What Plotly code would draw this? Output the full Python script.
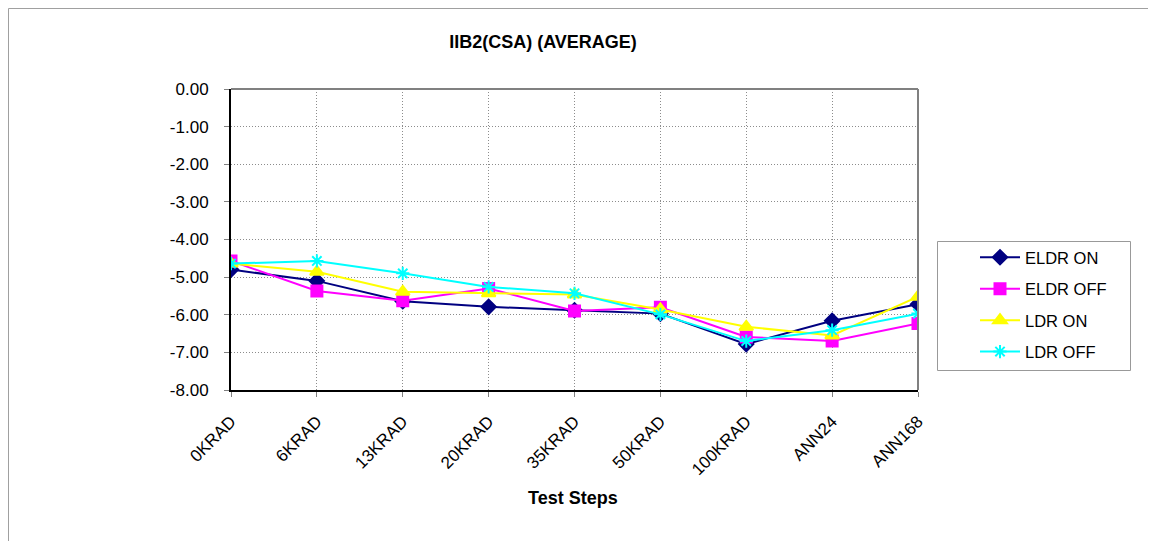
import plotly.graph_objects as go

categories = ["0KRAD", "6KRAD", "13KRAD", "20KRAD", "35KRAD", "50KRAD", "100KRAD", "ANN24", "ANN168"]
eldr_on = [-4.80, -5.10, -5.64, -5.79, -5.88, -5.97, -6.78, -6.16, -5.72]
eldr_off = [-4.57, -5.37, -5.63, -5.30, -5.90, -5.80, -6.59, -6.70, -6.23]
ldr_on = [-4.64, -4.86, -5.39, -5.43, -5.46, -5.86, -6.32, -6.55, -5.52]
ldr_off = [-4.64, -4.57, -4.90, -5.26, -5.43, -5.99, -6.70, -6.41, -5.97]
y_tickvals = [0, -1, -2, -3, -4, -5, -6, -7, -8]
y_ticktext = ["0.00", "-1.00", "-2.00", "-3.00", "-4.00", "-5.00", "-6.00", "-7.00", "-8.00"]

series = [
    ("ELDR ON", eldr_on, "#000080", "diamond", 11),
    ("ELDR OFF", eldr_off, "#FF00FF", "square", 11),
    ("LDR ON", ldr_on, "#FFFF00", "triangle-up", 12),
    ("LDR OFF", ldr_off, "#00FFFF", "asterisk-open", 11),
]

fig = go.Figure()
for name, vals, color, sym, size in series:
    fig.add_trace(go.Scatter(
        x=categories, y=vals, name=name, mode="lines+markers",
        legendgroup=name,
        line=dict(color=color, width=2),
        marker=dict(symbol=sym, size=size, color=color, line=dict(color=color, width=2)),
    ))

# page body has an 8px margin; compensate so page coordinates match the reference
OFF = 8
W, H = 1156 - OFF, 541 - OFF
L, T = 231 - OFF, 89 - OFF
pw, ph = 687, 301
R, B = W - L - pw, H - T - ph
plot_bottom = T + ph  # figure coords


def px_x(x_page):
    return (x_page - OFF - L) / pw


def px_y(y_page):
    return (plot_bottom - (y_page - OFF)) / ph


grid = dict(showgrid=True, gridcolor="#8C8C8C", gridwidth=1, griddash="1px,2px")
fig.update_layout(
    width=W, height=H,
    margin=dict(l=L, r=R, t=T, b=B),
    paper_bgcolor="white", plot_bgcolor="white",
    font=dict(family="Arial, 'Liberation Sans', sans-serif", size=17, color="black"),
    title=dict(text="<b>IIB2(CSA) (AVERAGE)</b>", x=(543 - OFF) / W, xanchor="center",
               y=1 - (42 - OFF) / H, yanchor="middle", font=dict(size=18, color="black")),
    showlegend=True,
    legend=dict(x=px_x(975), xanchor="left", y=px_y(240), yanchor="top",
                borderwidth=0, bgcolor="rgba(0,0,0,0)",
                font=dict(size=16.5), tracegroupgap=7, itemwidth=40),
    xaxis=dict(type="category", range=[0, 8], showline=True, linecolor="black", linewidth=2,
               ticks="outside", ticklen=5, tickcolor="#808080", tickangle=-45,
               ticklabelstandoff=8, zeroline=False, **grid),
    yaxis=dict(range=[-8, 0], tickvals=y_tickvals, ticktext=y_ticktext,
               showline=True, linecolor="black", linewidth=2,
               ticks="outside", ticklen=5, tickcolor="#808080", ticklabelstandoff=12,
               zeroline=False, **grid),
    annotations=[dict(text="<b>Test Steps</b>", x=px_x(573), y=px_y(498), xref="paper", yref="paper",
                      xanchor="center", yanchor="middle", showarrow=False, font=dict(size=18))],
)
# top/right plot border (gray)
fig.add_shape(type="line", xref="paper", yref="paper", x0=0, x1=1, y0=1, y1=1,
              line=dict(color="#808080", width=2))
fig.add_shape(type="line", xref="paper", yref="paper", x0=1, x1=1, y0=0, y1=1,
              line=dict(color="#808080", width=2))
# legend frame
fig.add_shape(type="rect", xref="paper", yref="paper",
              x0=px_x(937.5), x1=px_x(1130.5), y0=px_y(370.5), y1=px_y(241.5),
              line=dict(color="#999999", width=1), fillcolor="white", layer="above")
# outer chart border (top and left edges visible)
fig.add_shape(type="rect", xref="paper", yref="paper",
              x0=px_x(OFF + 0.5), x1=px_x(1300), y0=px_y(700), y1=px_y(OFF + 0.5),
              line=dict(color="#A0A0A0", width=1), layer="below")

fig.write_html("out.html")
